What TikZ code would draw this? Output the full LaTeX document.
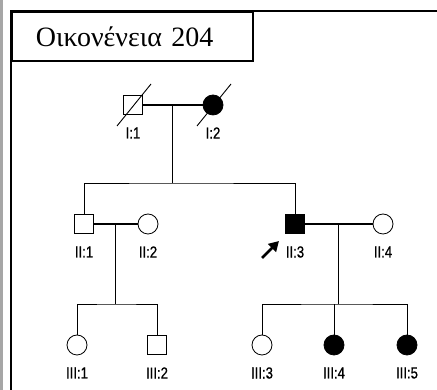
\documentclass[tikz,border=0pt]{standalone}
\usepackage{fontspec}
\setmainfont{Liberation Serif}
\newfontfamily\tagfont[FakeStretch=0.82,FakeBold=0.8]{Liberation Sans}
\usepackage{tikz}
\usetikzlibrary{arrows.meta,positioning}
\tikzstyle{male} = [rectangle, draw, minimum size=19pt, inner sep=0pt,
    line width=0.8pt]
\tikzstyle{female} = [circle, draw, minimum size=20pt, inner sep=0pt,
    line width=0.8pt]
\tikzstyle{ill} = [fill=black]
\tikzstyle{tag} = [font=\tagfont\fontsize{16}{16}\selectfont, inner sep=0pt]
\tikzstyle{title} = [rectangle, draw, line width=1.6pt, anchor=north west,
    text width=193pt, inner xsep=24pt, minimum height=49pt, align=left,
    font=\fontsize{28}{28}\selectfont]
\tikzstyle{line} = [draw, line width=0.9pt]
\tikzstyle{mate} = [draw, line width=1.2pt]
\tikzstyle{dead} = [draw, line width=0.9pt]
\tikzstyle{proband} = [draw, line width=2.6pt,
    -{Triangle[length=10pt,width=11pt]}]

\begin{document}
\begin{tikzpicture}[x=1pt, y=1pt, node distance=28pt]
    \useasboundingbox (0,0) rectangle (437,390);
    % Frame
    \draw [gray!70, line width=3pt] (1.5,0) -- (1.5,390);
    \draw [line width=2pt] (11,0) -- (11,379) -- (437,379);
    \node [title] (head) at (11,379) {Οικονένεια 204};

    % Place nodes
    \node [male] (i1) at (133,285) {};
    \node [female, ill, right of=i1, node distance=80pt] (i2) {};
    \node [male] (ii1) at (84,166) {};
    \node [female, right of=ii1, node distance=64pt] (ii2) {};
    \node [male, ill, right of=ii2, node distance=147pt] (ii3) {};
    \node [female, right of=ii3, node distance=88pt] (ii4) {};
    \node [female] (iii1) at (77,45) {};
    \node [male, right of=iii1, node distance=80pt] (iii2) {};
    \node [female, right of=iii2, node distance=105pt] (iii3) {};
    \node [female, ill, right of=iii3, node distance=72pt] (iii4) {};
    \node [female, ill, right of=iii4, node distance=73pt] (iii5) {};

    % Labels
    \node [tag, below of=i1] (i1t) {I:1};
    \node [tag, below of=i2] (i2t) {I:2};
    \node [tag, below of=ii1] (ii1t) {II:1};
    \node [tag, below of=ii2] (ii2t) {II:2};
    \node [tag, below of=ii3] (ii3t) {II:3};
    \node [tag, below of=ii4] (ii4t) {II:4};
    \node [tag, below of=iii1] (iii1t) {III:1};
    \node [tag, below of=iii2] (iii2t) {III:2};
    \node [tag, below of=iii3] (iii3t) {III:3};
    \node [tag, below of=iii4] (iii4t) {III:4};
    \node [tag, below of=iii5] (iii5t) {III:5};

    % Deceased
    \path [dead] ([shift={(-16,-21)}]i1.center) -- ([shift={(18,21)}]i1.center);
    \path [dead] ([shift={(-16,-21)}]i2.center) -- ([shift={(18,21)}]i2.center);

    % Draw edges
    \path [mate] (i1) -- coordinate (i12) (i2);
    \path [mate] (ii1) -- coordinate (ii12) (ii2);
    \path [mate] (ii3) -- coordinate (ii34) (ii4);
    \coordinate [below of=i12, node distance=78pt] (sib2);
    \coordinate [below of=ii12, node distance=80pt] (sib3a);
    \coordinate [below of=ii34, node distance=80pt] (sib3b);
    \path [line] (i12) -- (sib2);
    \path [line] (ii1) |- (sib2) -| (ii3);
    \path [line] (ii12) -- (sib3a);
    \path [line] (iii1) |- (sib3a) -| (iii2);
    \path [line] (ii34) -- (sib3b);
    \path [line] (iii3) |- (sib3b) -| (iii5);
    \path [line] (iii4) -- (iii4 |- sib3b);

    % Proband
    \coordinate [below left=34pt and 33pt of ii3.center] (pb1);
    \coordinate [below left=17pt and 16pt of ii3.center] (pb2);
    \path [proband] (pb1) -- (pb2);
\end{tikzpicture}
\end{document}
